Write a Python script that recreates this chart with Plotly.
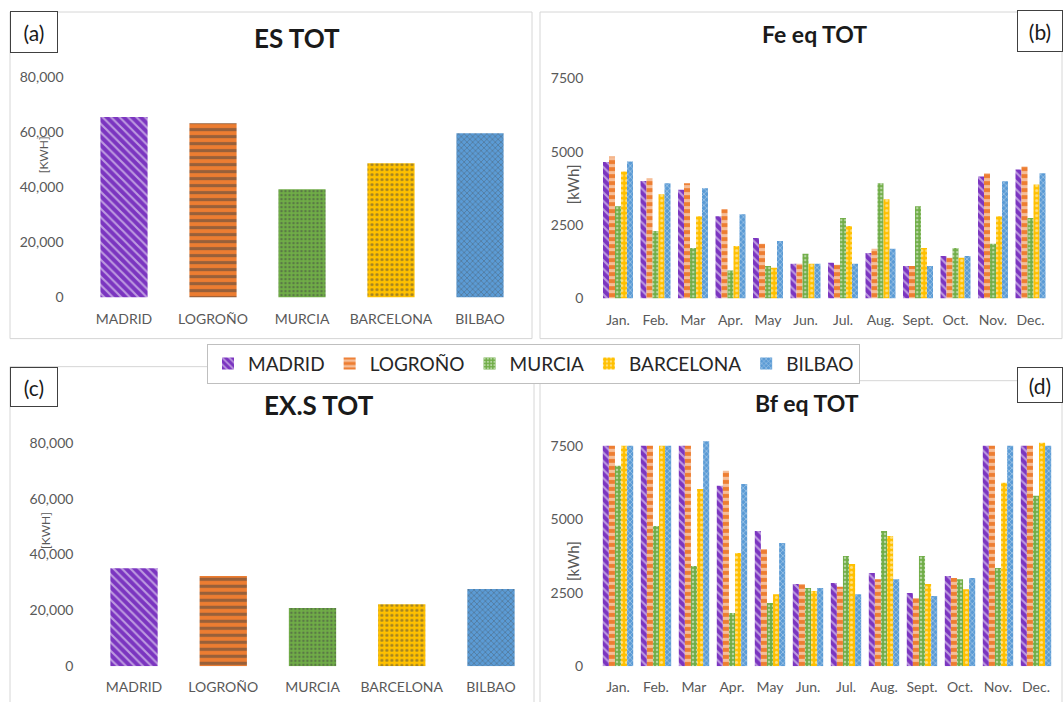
import plotly.graph_objects as go

# ---------------- data ----------------
cities = ["MADRID", "LOGROÑO", "MURCIA", "BARCELONA", "BILBAO"]
months = ["Jan.", "Feb.", "Mar", "Apr.", "May", "Jun.", "Jul.", "Aug.", "Sept.", "Oct.", "Nov.", "Dec."]

es_tot = [65500, 63300, 39300, 48700, 59600]
exs_tot = [35100, 32300, 20800, 22200, 27600]

fe_madrid = [4650, 4000, 3700, 2800, 2060, 1180, 1220, 1550, 1110, 1450, 4150, 4390]
fe_logrono = [4830, 4090, 3920, 3040, 1860, 1180, 1150, 1690, 1110, 1390, 4260, 4490]
fe_murcia = [3140, 2300, 1720, 950, 1110, 1520, 2740, 3920, 3140, 1720, 1860, 2740]
fe_barcelona = [4320, 3550, 2800, 1790, 1050, 1180, 2470, 3380, 1720, 1390, 2800, 3880]
fe_bilbao = [4660, 3920, 3750, 2870, 1960, 1180, 1180, 1690, 1110, 1450, 3990, 4260]

bf_madrid = [7500, 7500, 7500, 6140, 4600, 2800, 2830, 3170, 2490, 3070, 7500, 7500]
bf_logrono = [7500, 7500, 7500, 6650, 3990, 2800, 2700, 2960, 2320, 3000, 7500, 7500]
bf_murcia = [6820, 4770, 3410, 1810, 2150, 2660, 3750, 4600, 3750, 2960, 3340, 5800]
bf_barcelona = [7500, 7500, 6030, 3850, 2450, 2560, 3480, 4430, 2800, 2620, 6240, 7600]
bf_bilbao = [7500, 7500, 7650, 6200, 4190, 2660, 2450, 2960, 2390, 3000, 7500, 7500]

es_ticks = [0, 20000, 40000, 60000, 80000]
kwh_ticks = [0, 2500, 5000, 7500]

fe_series = [fe_madrid, fe_logrono, fe_murcia, fe_barcelona, fe_bilbao]
bf_series = [bf_madrid, bf_logrono, bf_murcia, bf_barcelona, bf_bilbao]

# ---------------- style ----------------
colors = ["#7B35C0", "#ED7D31", "#70AD47", "#FFC000", "#5B9BD5"]
shapes_p = ["\\", "-", ".", ".", "x"]
sizes_p = [6, 7, 4, 5, 4]
solid_p = [0.35, 0.45, 0.3, 0.3, 0.3]

W, H = 1064, 702
FONT = "Lato"
GREY = "#595959"

# vertical placement correction (measured offset/scale of the photographed page)
Y_OFF, Y_SCALE = 9.0, 0.974


def px(x):
    return x / W


def py(y):
    return 1 - ((y - Y_OFF) / Y_SCALE) / H


fig = go.Figure()

# panel (a) and (c): totals per city
for vals, xa, ya in [(es_tot, "x", "y"), (exs_tot, "x3", "y3")]:
    fig.add_trace(go.Bar(
        x=cities, y=vals, xaxis=xa, yaxis=ya, width=0.53, showlegend=False,
        marker=dict(color=colors, line=dict(width=0),
                    pattern=dict(shape=shapes_p, fillmode="overlay", fgcolor="white",
                                 size=sizes_p, solidity=solid_p)),
        hoverinfo="x+y",
    ))

# panel (b) and (d): monthly per city
for series, xa, ya, show in [(fe_series, "x2", "y2", True), (bf_series, "x4", "y4", False)]:
    for i, (city, vals) in enumerate(zip(cities, series)):
        fig.add_trace(go.Bar(
            x=months, y=vals, name=city, xaxis=xa, yaxis=ya,
            legendgroup=city, showlegend=show,
            marker=dict(color=colors[i], line=dict(width=0),
                        pattern=dict(shape=shapes_p[i], fillmode="overlay", fgcolor="white",
                                     size=sizes_p[i], solidity=solid_p[i])),
        ))

tickfont = dict(family=FONT, size=14, color=GREY)

xcommon = dict(showgrid=False, zeroline=False, showline=False, ticks="",
               tickfont=tickfont, ticklabelstandoff=11, fixedrange=True)
ycommon = dict(showgrid=False, zeroline=False, showline=False, ticks="",
               tickfont=tickfont, ticklabelstandoff=15, fixedrange=True)

fig.update_layout(
    width=W, height=H,
    margin=dict(l=0, r=0, t=0, b=0),
    paper_bgcolor="white", plot_bgcolor="white",
    barmode="group", bargap=0.2, bargroupgap=0,
    font=dict(family=FONT, color="#262626"),
    xaxis=dict(domain=[px(79.5), px(524.5)], anchor="y", **xcommon),
    yaxis=dict(domain=[py(297), py(77)], anchor="x", range=[0, 80000],
               tickvals=es_ticks, tickformat=",", **ycommon),
    xaxis2=dict(domain=[px(599.25), px(1049.25)], anchor="y2", **xcommon),
    yaxis2=dict(domain=[py(298), py(78)], anchor="x2", range=[0, 7500],
                tickvals=kwh_ticks, tickformat="d", **ycommon),
    xaxis3=dict(domain=[px(89.4), px(535.6)], anchor="y3", **xcommon),
    yaxis3=dict(domain=[py(665), py(442)], anchor="x3", range=[0, 80000],
                tickvals=es_ticks, tickformat=",", **ycommon),
    xaxis4=dict(domain=[px(599), px(1055)], anchor="y4", **xcommon),
    yaxis4=dict(domain=[py(665), py(439.1)], anchor="x4", range=[0, 7700],
                tickvals=kwh_ticks, tickformat="d", **ycommon),
    legend=dict(orientation="h", x=px(207), y=py(343), xanchor="left", yanchor="top",
                bgcolor="white", bordercolor="#BFBFBF", borderwidth=1,
                font=dict(family=FONT, size=19, color="#262626"),
                itemwidth=30, traceorder="normal"),
)

# panel borders
border = "#D6D6D6"
shapes = []
for (x0, y0, x1, y1) in [(10, 12, 532, 338), (540, 12, 1062, 338), (10, 366, 534, 702), (540, 380, 1062, 702)]:
    shapes.append(dict(type="rect", xref="paper", yref="paper",
                       x0=px(x0), x1=px(x1), y0=py(y1), y1=py(y0),
                       line=dict(color=border, width=1), fillcolor="rgba(0,0,0,0)", layer="below"))
fig.update_layout(shapes=shapes)

annotations = []
# titles
for text, cx, cy, size in [("ES TOT", 296.5, 38, 26), ("Fe eq TOT", 814, 34, 23),
                           ("EX.S TOT", 319, 404, 26), ("Bf eq TOT", 806.5, 402, 23)]:
    annotations.append(dict(text="<b>%s</b>" % text, x=px(cx), y=py(cy), xref="paper", yref="paper",
                            showarrow=False, xanchor="center", yanchor="middle",
                            font=dict(family=FONT, size=size, color="#1a1a1a")))
# panel labels with boxes
for text, cx, cy, w, h in [("(a)", 34, 32, 46, 40), ("(b)", 1040, 31, 44, 40),
                           ("(c)", 34, 386, 46, 38), ("(d)", 1040, 384, 44, 34)]:
    annotations.append(dict(text=text, x=px(cx), y=py(cy), xref="paper", yref="paper",
                            showarrow=False, xanchor="center", yanchor="middle",
                            width=w, height=h, bordercolor="#404040", borderwidth=1,
                            bgcolor="white", borderpad=0,
                            font=dict(family=FONT, size=21, color="#1a1a1a")))
# y-axis titles
for text, cx, cy, size in [("[KWH]", 43, 155, 12), ("[kWh]", 573, 184, 15),
                           ("[KWH]", 46, 530, 12), ("[kWh]", 573, 560, 15)]:
    annotations.append(dict(text=text, x=px(cx), y=py(cy), xref="paper", yref="paper",
                            showarrow=False, xanchor="center", yanchor="middle", textangle=-90,
                            font=dict(family=FONT, size=size, color=GREY)))
fig.update_layout(annotations=annotations)

fig.write_html(
    "out.html",
    config={"displayModeBar": False},
    post_script=(
        "document.body.style.margin='0';"
        "document.body.style.overflow='hidden';"
        "var gd=document.getElementById('{plot_id}');"
        "gd.style.position='fixed';gd.style.top='0';gd.style.left='0';"
    ),
)
